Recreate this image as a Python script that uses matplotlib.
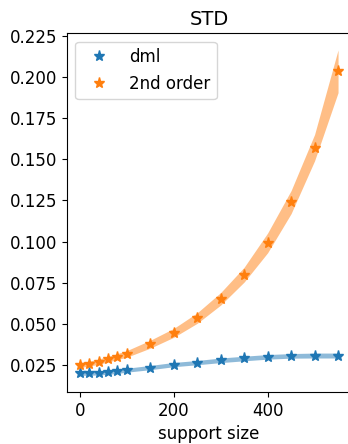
import matplotlib.pyplot as plt
import numpy as np

plt.rcParams.update({
    "font.size": 12,
    "axes.titlesize": 14,
    "axes.labelsize": 12,
    "xtick.labelsize": 12,
    "ytick.labelsize": 12,
    "legend.fontsize": 12,
})

support = [0, 20, 40, 60, 80, 100, 150, 200, 250, 300, 350, 400, 450, 500, 550]

dml_std = [0.0199, 0.0199, 0.0201, 0.0205, 0.0210, 0.0218, 0.0234, 0.0252,
           0.0264, 0.0278, 0.0289, 0.0299, 0.0305, 0.0307, 0.0307]
dml_err = [0.0012, 0.0012, 0.0012, 0.0012, 0.0012, 0.0012, 0.0013, 0.0013,
           0.0013, 0.0014, 0.0014, 0.0014, 0.0014, 0.0015, 0.0015]

second_std = [0.0250, 0.0258, 0.0270, 0.0285, 0.0301, 0.0317, 0.0376, 0.0445,
              0.0535, 0.0652, 0.0799, 0.0992, 0.1240, 0.1571, 0.2035]
second_err = [0.0015, 0.0015, 0.0016, 0.0017, 0.0018, 0.0020, 0.0024, 0.0027,
              0.0032, 0.0038, 0.0045, 0.0060, 0.0070, 0.0080, 0.0130]

x = np.array(support)
series = [
    (np.array(dml_std), np.array(dml_err), "dml", "C0"),
    (np.array(second_std), np.array(second_err), "2nd order", "C1"),
]

fig = plt.figure(figsize=(3.48, 4.44), dpi=100)
ax = fig.add_axes([0.1925, 0.117, 0.816, 0.808])

for mean, err, label, color in series:
    ax.fill_between(x, mean - err, mean + err, color=color, alpha=0.5, linewidth=0)
    ax.plot(x, mean, "*", color=color, markersize=8, label=label)

ax.set_xlim(-27.5, 577.5)
ax.set_ylim(0.0085, 0.2266)
ax.set_xticks([0, 200, 400])
ax.set_yticks([0.025, 0.05, 0.075, 0.1, 0.125, 0.15, 0.175, 0.2, 0.225])
ax.set_title("STD")
ax.set_xlabel("support size")
ax.legend(loc="upper left")

fig.savefig("out.png", dpi=100)
